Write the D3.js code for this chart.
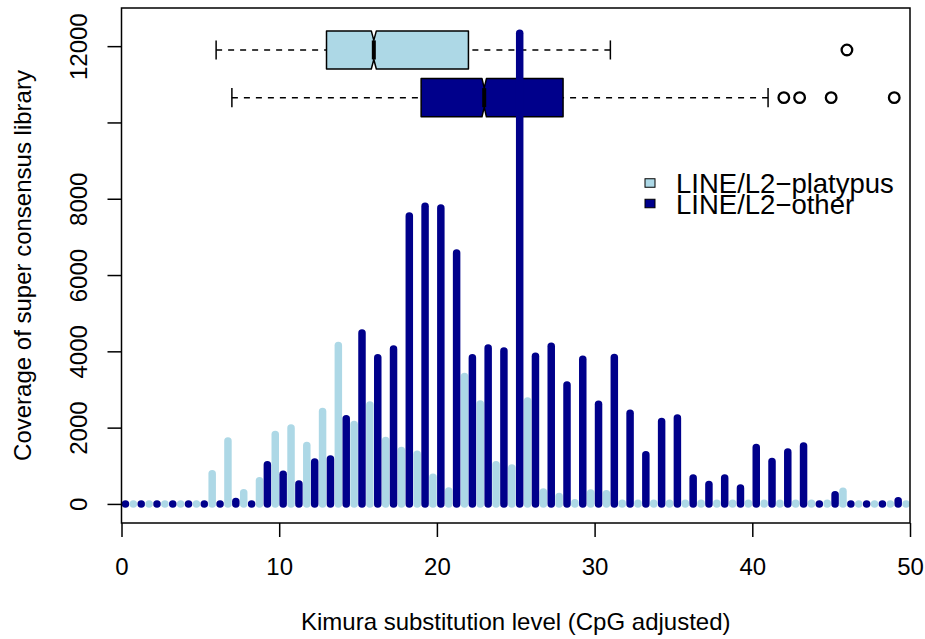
<!DOCTYPE html>
<html><head><meta charset="utf-8">
<script src="https://cdn.jsdelivr.net/npm/d3@7"></script>
<style>
body{margin:0;background:#fff}
svg{display:block}
text{font-family:"Liberation Sans",Arial,Helvetica,sans-serif;fill:#000}
</style>
</head><body>
<svg id="c" width="925" height="639"></svg>
<script>
// ---------- data ----------
const bins = [0,1,2,3,4,5,6,7,8,9,10,11,12,13,14,15,16,17,18,19,20,21,22,23,24,25,26,27,28,29,30,31,32,33,34,35,36,37,38,39,40,41,42,43,44,45,46,47,48,49];
const platypusValues = [0,0,0,0,0,790,1650,290,610,1820,1990,1530,2420,4150,2080,2590,1660,1400,1300,700,340,3340,2620,1030,940,2700,310,195,30,285,265,20,20,20,20,20,20,20,20,20,20,20,20,20,20,330,0,0,0,0];
const otherValues = [0,0,0,0,0,0,0,65,0,1030,780,520,1100,1180,2230,4480,3830,4060,7550,7800,7760,6580,3830,4090,4010,12340,3870,4130,3120,3790,2610,3840,2380,1290,2160,2250,680,510,680,415,1480,1110,1360,1520,0,240,0,0,0,85];
const seriesNames = ["LINE/L2\u2212platypus","LINE/L2\u2212other"];
const seriesColors = ["#ADD8E6","#00008B"];
// boxplot stats: min, Q1, median, Q3, max
const platypusBox = [6,13,16,22,31];
const otherBox = [7,19,23,28,41];
const platypusNotch = [15.84,16.16];
const otherNotch = [22.86,23.14];
const platypusOutliers = [46];
const otherOutliers = [42,43,45,49];
const boxAt = [11900,10650];
const boxHalf = 500;
const xTicks = [0,10,20,30,40,50];
const yTicks = [0,2000,4000,6000,8000,10000,12000];
const yTickLabels = ["0","2000","4000","6000","8000","","12000"];
const xTitle = "Kimura substitution level (CpG adjusted)";
const yTitle = "Coverage of super consensus library";

// ---------- layout ----------
const L = 121.5, R = 910, T = 8, B = 523;
const svg = d3.select("#c");
const x = d3.scaleLinear().domain([0,50]).range([L,R]);
const y = d3.scaleLinear().domain([-500,13000]).range([B,T]);

// axes
const xAxis = svg.append("g").attr("transform",`translate(0,${B})`)
  .call(d3.axisBottom(x).tickValues(xTicks).tickSize(14).tickSizeOuter(0).tickFormat(d3.format("d")));
xAxis.select(".domain").remove();
xAxis.selectAll(".tick line").attr("stroke","#000").attr("stroke-width",1.5);
xAxis.selectAll(".tick text").attr("y",52).attr("dy",0).attr("font-size",24)
  .style("font-family",'"Liberation Sans",Arial,sans-serif');

const yAxis = svg.append("g").attr("transform",`translate(${L},0)`)
  .call(d3.axisLeft(y).tickValues(yTicks).tickSize(14).tickSizeOuter(0).tickFormat((d,i)=>yTickLabels[i]));
yAxis.select(".domain").remove();
yAxis.selectAll(".tick line").attr("stroke","#000").attr("stroke-width",1.5);
yAxis.selectAll(".tick text").attr("x",0).attr("y",0).attr("dy",0)
  .attr("text-anchor","middle").attr("transform","translate(-35,0) rotate(-90)")
  .attr("font-size",24).style("font-family",'"Liberation Sans",Arial,sans-serif');

// boxplots
function drawBox(stats, notch, outliers, at, color){
  const c = y(at), hw = y(at - boxHalf) - y(at);
  const g = svg.append("g");
  g.append("line").attr("x1",x(stats[0])).attr("x2",x(stats[1])).attr("y1",c).attr("y2",c)
    .attr("stroke","#000").attr("stroke-width",1.5).attr("stroke-dasharray","6,6");
  g.append("line").attr("x1",x(stats[4])).attr("x2",x(stats[3])).attr("y1",c).attr("y2",c)
    .attr("stroke","#000").attr("stroke-width",1.5).attr("stroke-dasharray","6,6");
  [stats[0],stats[4]].forEach(v=>{
    g.append("line").attr("x1",x(v)).attr("x2",x(v)).attr("y1",c-hw/2).attr("y2",c+hw/2)
      .attr("stroke","#000").attr("stroke-width",1.5);
  });
  const pts = [
    [x(stats[1]),c-hw],[x(notch[0]),c-hw],[x(stats[2]),c-hw/2],[x(notch[1]),c-hw],[x(stats[3]),c-hw],
    [x(stats[3]),c+hw],[x(notch[1]),c+hw],[x(stats[2]),c+hw/2],[x(notch[0]),c+hw],[x(stats[1]),c+hw]
  ];
  g.append("polygon").attr("points",pts.map(p=>p.join(",")).join(" "))
    .attr("fill",color).attr("stroke","#000").attr("stroke-width",1.5).attr("stroke-linejoin","round");
  g.append("line").attr("x1",x(stats[2])).attr("x2",x(stats[2])).attr("y1",c-hw/2).attr("y2",c+hw/2)
    .attr("stroke","#000").attr("stroke-width",4);
  g.selectAll("circle.o").data(outliers).enter().append("circle")
    .attr("cx",d=>x(d)).attr("cy",c).attr("r",5.3)
    .attr("fill","none").attr("stroke","#000").attr("stroke-width",2.3);
}
drawBox(platypusBox, platypusNotch, platypusOutliers, boxAt[0], seriesColors[0]);
drawBox(otherBox, otherNotch, otherOutliers, boxAt[1], seriesColors[1]);

// bars (type = "h")
function drawBars(vals, offset, color){
  svg.append("g").selectAll("path").data(bins).enter().append("path")
    .attr("d",(b,i)=>`M${x(b+offset)},${y(0)}L${x(b+offset)},${y(vals[i])}`)
    .attr("stroke",color).attr("stroke-width",7.5).attr("stroke-linecap","round").attr("fill","none");
}
drawBars(platypusValues, 0.75, seriesColors[0]);
drawBars(otherValues, 0.25, seriesColors[1]);

// frame
svg.append("rect").attr("x",L).attr("y",T).attr("width",R-L).attr("height",B-T)
  .attr("fill","none").attr("stroke","#000").attr("stroke-width",1.5);

// titles
svg.append("text").attr("x",(L+R)/2).attr("y",630).attr("text-anchor","middle")
  .attr("font-size",24).text(xTitle);
svg.append("text").attr("transform",`translate(31,${(T+B)/2}) rotate(-90)`).attr("text-anchor","middle")
  .attr("font-size",24).text(yTitle);

// legend
const leg = svg.append("g");
const legY = [183, 203.5];
seriesNames.forEach((n,i)=>{
  leg.append("rect").attr("x",645).attr("y",legY[i]-4.25).attr("width",10).attr("height",8.5)
    .attr("fill",seriesColors[i]).attr("stroke","#000").attr("stroke-width",1);
  leg.append("text").attr("x",676).attr("y",legY[i]+10).attr("font-size",27.5).text(n);
});
</script>
</body></html>
